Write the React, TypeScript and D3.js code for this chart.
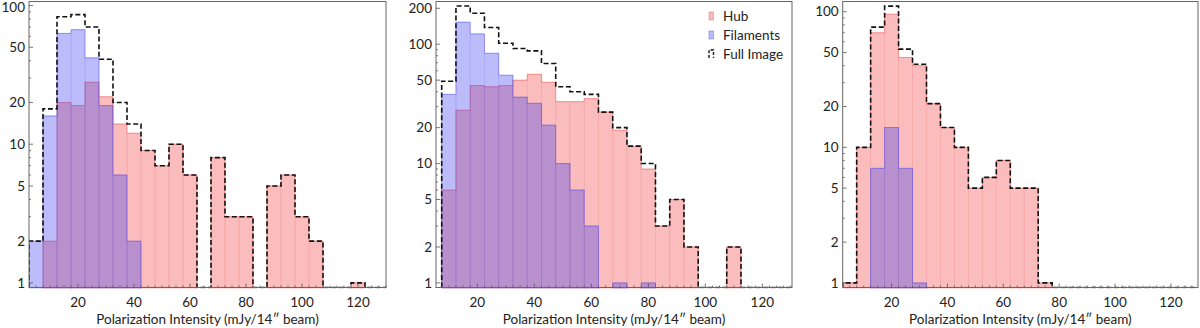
import * as d3 from 'd3';
import React, { useEffect, useRef } from 'react';

// histogram bins, 5 mJy wide
const binCenters = [5, 10, 15, 20, 25, 30, 35, 40, 45, 50, 55, 60, 65, 70, 75, 80, 85, 90, 95, 100, 105, 110, 115, 120, 125, 130];

// left panel
const hub1 = [0, 2, 20, 19, 28, 22, 14, 12, 9, 7, 10, 6, 0, 8, 3, 3, 0, 5, 6, 3, 2, 0, 0, 1, 0, 0];
const fil1 = [2, 16, 63, 67, 42, 19, 6, 2, 0, 0, 0, 0, 0, 0, 0, 0, 0, 0, 0, 0, 0, 0, 0, 0, 0, 0];
const full1 = [2, 18, 83, 86, 70, 41, 20, 14, 9, 7, 10, 6, 0, 8, 3, 3, 0, 5, 6, 3, 2, 0, 0, 1, 0, 0];

// middle panel
const hub2 = [0, 6, 28, 45, 44, 45, 50, 56, 48, 33, 33, 35, 27, 19, 14, 9, 3, 5, 2, 0, 0, 2, 0, 0, 0, 0];
const fil2 = [0, 38, 153, 122, 84, 55, 36, 32, 21, 10, 6, 3, 0, 1, 0, 1, 0, 0, 0, 0, 0, 0, 0, 0, 0, 0];
const full2 = [0, 49, 209, 182, 138, 102, 92, 88, 69, 44, 40, 38, 27, 20, 14, 10, 3, 5, 2, 0, 0, 2, 0, 0, 0, 0];

// right panel
const hub3 = [1, 10, 70, 96, 46, 40, 21, 14, 10, 5, 6, 8, 5, 5, 1, 0, 0, 0, 0, 0, 0, 0, 0, 0, 0, 0];
const fil3 = [0, 0, 7, 14, 7, 1, 0, 0, 0, 0, 0, 0, 0, 0, 0, 0, 0, 0, 0, 0, 0, 0, 0, 0, 0, 0];
const full3 = [1, 10, 77, 110, 53, 41, 21, 14, 10, 5, 6, 8, 5, 5, 1, 0, 0, 0, 0, 0, 0, 0, 0, 0, 0, 0];

const xTickLabels = [20, 40, 60, 80, 100, 120];
const yTicks1 = [1, 2, 5, 10, 20, 50, 100];
const yTicks2 = [1, 2, 5, 10, 20, 50, 100, 200];
const yTicks3 = [1, 2, 5, 10, 20, 50, 100];

const legendItems = ['Hub', 'Filaments', 'Full Image'];

const xLabel = 'Polarization Intensity (mJy/14\u2033 beam)';

const top = 1.5;
const bottom = 287.5;
const font = 'Lato, "Open Sans", sans-serif';
const fs = 13.5;
const red = 'rgb(240,60,60)';
const blue = 'rgb(60,60,240)';

const panels = [
  { id: 'p1', left: 29, right: 386, xDomain: [2.5, 130], yDomain: [0.926, 107], yTicks: yTicks1, hub: hub1, fil: fil1, full: full1, legend: false },
  { id: 'p2', left: 436, right: 792, xDomain: [5.5, 130.4], yDomain: [0.915, 228], yTicks: yTicks2, hub: hub2, fil: fil2, full: full2, legend: true },
  { id: 'p3', left: 842.7, right: 1198, xDomain: [2.5, 129.7], yDomain: [0.925, 119], yTicks: yTicks3, hub: hub3, fil: fil3, full: full3, legend: false },
];

function Panel({ cfg }) {
  const ref = useRef(null);

  useEffect(() => {
    const g = d3.select(ref.current);
    g.selectAll('*').remove();

    const x = d3.scaleLinear().domain(cfg.xDomain).range([cfg.left, cfg.right]);
    const y = d3.scaleLog().domain(cfg.yDomain).range([bottom, top]);
    const yv = (v) => (v > 0 ? y(v) : bottom);

    g.append('clipPath').attr('id', 'clip-' + cfg.id)
      .append('rect')
      .attr('x', cfg.left).attr('y', top)
      .attr('width', cfg.right - cfg.left).attr('height', bottom - top + 1);

    const plot = g.append('g').attr('clip-path', `url(#clip-${cfg.id})`);

    const bins = (vals) => binCenters.map((c, i) => ({ x0: c - 2.5, x1: c + 2.5, v: vals[i] }));

    // outline of each run of non-empty bins
    const stepPoints = (vals) => {
      const runs = [];
      let cur = null;
      bins(vals).forEach(b => {
        if (b.v > 0) {
          if (!cur) { cur = [[x(b.x0), bottom]]; runs.push(cur); }
          cur.push([x(b.x0), y(b.v)], [x(b.x1), y(b.v)]);
        } else if (cur) {
          cur.push([cur[cur.length - 1][0], bottom]);
          cur = null;
        }
      });
      if (cur) cur.push([cur[cur.length - 1][0], bottom]);
      return runs;
    };

    const line = d3.line();

    const drawHist = (vals, color) => {
      plot.append('g').selectAll('rect')
        .data(bins(vals).filter(d => d.v > 0))
        .join('rect')
        .attr('x', d => x(d.x0))
        .attr('width', d => x(d.x1) - x(d.x0))
        .attr('y', d => y(d.v))
        .attr('height', d => bottom - y(d.v) + 2)
        .attr('fill', color)
        .attr('fill-opacity', 0.34)
        .attr('stroke', color)
        .attr('stroke-opacity', 0.1)
        .attr('stroke-width', 0.8);

      plot.append('g').selectAll('path')
        .data(stepPoints(vals))
        .join('path')
        .attr('d', line)
        .attr('fill', 'none')
        .attr('stroke', color)
        .attr('stroke-opacity', 0.45)
        .attr('stroke-width', 1);
    };

    drawHist(cfg.hub, red);
    drawHist(cfg.fil, blue);

    // full image: dashed step outline, empty bins run along the bottom
    const fb = bins(cfg.full);
    const first = fb.findIndex(b => b.v > 0);
    const pts = [[x(fb[first].x0), bottom]];
    fb.slice(first).forEach(b => {
      pts.push([x(b.x0), yv(b.v)], [x(b.x1), yv(b.v)]);
    });
    pts.push([pts[pts.length - 1][0], bottom]);
    plot.append('path')
      .attr('d', line(pts))
      .attr('fill', 'none')
      .attr('stroke', '#111')
      .attr('stroke-width', 1.6)
      .attr('stroke-dasharray', '5,2.6');

    // frame
    g.append('rect')
      .attr('x', cfg.left).attr('y', top)
      .attr('width', cfg.right - cfg.left).attr('height', bottom - top)
      .attr('fill', 'none')
      .attr('stroke', '#666')
      .attr('stroke-width', 1);

    // x ticks, pointing in
    const xt = d3.range(5, 130.1, 2.5).filter(v => v >= cfg.xDomain[0] && v <= cfg.xDomain[1]);
    g.append('g').selectAll('line')
      .data(xt)
      .join('line')
      .attr('x1', d => x(d)).attr('x2', d => x(d))
      .attr('y1', bottom).attr('y2', d => bottom - (d % 20 === 0 ? 4 : 2))
      .attr('stroke', '#555').attr('stroke-width', 0.8);

    g.append('g').selectAll('text')
      .data(xTickLabels)
      .join('text')
      .attr('x', d => x(d))
      .attr('y', bottom + 19)
      .attr('text-anchor', 'middle')
      .attr('font-family', font)
      .attr('font-size', fs)
      .attr('fill', '#222')
      .text(d => d);

    g.append('text')
      .attr('x', (cfg.left + cfg.right) / 2)
      .attr('y', 324)
      .attr('text-anchor', 'middle')
      .attr('font-family', font)
      .attr('font-size', fs)
      .attr('fill', '#222')
      .text(xLabel);

    // y ticks (log minors), pointing in
    const yt = [];
    [1, 10, 100].forEach(dec => d3.range(1, 10).forEach(m => {
      const v = dec * m;
      if (v >= cfg.yDomain[0] && v <= cfg.yDomain[1]) yt.push(v);
    }));
    g.append('g').selectAll('line')
      .data(yt)
      .join('line')
      .attr('x1', cfg.left).attr('x2', d => cfg.left + (cfg.yTicks.includes(d) ? 4 : 2))
      .attr('y1', d => y(d)).attr('y2', d => y(d))
      .attr('stroke', '#555').attr('stroke-width', 0.8);

    g.append('g').selectAll('text')
      .data(cfg.yTicks)
      .join('text')
      .attr('x', cfg.left - 4)
      .attr('y', d => Math.max(y(d), 7.5))
      .attr('dy', '0.35em')
      .attr('text-anchor', 'end')
      .attr('font-family', font)
      .attr('font-size', fs)
      .attr('fill', '#222')
      .text(d => d);

    if (cfg.legend) {
      const lx = cfg.right - 83;
      const leg = g.append('g');
      legendItems.forEach((name, i) => {
        const ly = 16 + i * 19;
        if (i < 2) {
          const c = i === 0 ? red : blue;
          leg.append('rect')
            .attr('x', lx).attr('y', ly - 4)
            .attr('width', 4.5).attr('height', 8)
            .attr('fill', c).attr('fill-opacity', 0.34)
            .attr('stroke', c).attr('stroke-opacity', 0.45).attr('stroke-width', 0.8);
        } else {
          leg.append('path')
            .attr('d', line([[lx, ly + 4], [lx, ly - 4], [lx + 4.5, ly - 4], [lx + 4.5, ly + 4]]))
            .attr('fill', 'none')
            .attr('stroke', '#111')
            .attr('stroke-width', 1.4)
            .attr('stroke-dasharray', '3,1.8');
        }
        leg.append('text')
          .attr('x', lx + 14)
          .attr('y', ly)
          .attr('dy', '0.35em')
          .attr('font-family', font)
          .attr('font-size', fs)
          .attr('fill', '#222')
          .text(name);
      });
    }
  }, [cfg]);

  return <g ref={ref} />;
}

export default function App() {
  return (
    <svg width={1200} height={328} style={{ position: 'absolute', left: 0, top: 0, background: '#fff' }}>
      {panels.map(p => <Panel key={p.id} cfg={p} />)}
    </svg>
  );
}
